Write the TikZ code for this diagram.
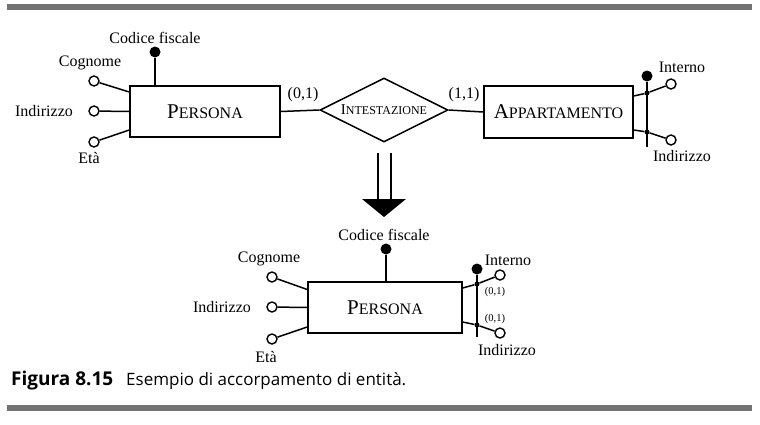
\documentclass[tikz,border=0pt]{standalone}
\usepackage{fontspec}
\setmainfont{Liberation Serif}
\newfontfamily\capfont{Open Sans}
\usetikzlibrary{shapes.geometric}
\newcommand\scap[4]{{\fontsize{#3}{#3}\selectfont #1}{\fontsize{#4}{#4}\selectfont #2}}
\tikzset{
  ln/.style={line width=1.5pt},
  ent/.style={draw, line width=1.5pt, minimum width=150pt, minimum height=51pt, inner sep=0pt},
  rel/.style={draw, diamond, line width=1.5pt, minimum width=128pt, minimum height=64pt, aspect=2, inner sep=0pt},
  att/.style={draw, circle, line width=1.4pt, fill=white, minimum size=10pt, inner sep=0pt},
  keyat/.style={circle, fill=black, minimum size=11pt, inner sep=0pt},
  jn/.style={circle, fill=black, minimum size=5pt, inner sep=0pt},
  lbl/.style={inner sep=0pt, font=\fontsize{16}{16}\selectfont},
  slbl/.style={inner sep=0pt, font=\fontsize{10.5}{10.5}\selectfont},
  bar/.style={fill=black!55, draw=none},
}
\begin{document}
\begin{tikzpicture}[x=1pt,y=-1pt]
\useasboundingbox (0,0) rectangle (760,424);
% bars
\fill[bar] (7,4) rectangle (752,10);
\fill[bar] (7,405) rectangle (752,411);

% ---------- top schema ----------
\node[ent] (p1) at (205,111.5) {\scap{P}{ERSONA}{21}{16}};
\node[rel] (r1) at (384,110) {\scap{I}{NTESTAZIONE}{15}{12}};
\node[ent, minimum width=149pt, minimum height=52pt] (a1) at (558.5,112) {\scap{A}{PPARTAMENTO}{21}{16}};
\draw[ln] (p1.east) -- (r1.west);
\draw[ln] (r1.east) -- (a1.west);
\node[lbl] (c01) at (303,95) {(0,1)};
\node[lbl] (c11) at (464,95) {(1,1)};

% Persona attributes (top)
\node[keyat] (cf1) at (155,52) {};
\draw[ln] (cf1) -- (cf1 |- p1.north);
\node[lbl] (lcf1) at (155,38) {Codice fiscale};
\node[att] (cog1) at (94,81) {};
\draw[ln] (cog1) -- ([yshift=19.5pt]p1.west);
\node[lbl] (lcog1) at (90,63) {Cognome};
\node[att] (ind1) at (94,111) {};
\draw[ln] (ind1) -- (p1.west);
\node[lbl] (lind1) at (44,111) {Indirizzo};
\node[att] (eta1) at (94,142) {};
\draw[ln] (eta1) -- ([yshift=-18.5pt]p1.west);
\node[lbl] (leta1) at (89,158) {Età};

% Appartamento composite identifier
\node[keyat] (k1) at (647,76) {};
\coordinate (kb1) at (647,147);
\draw[ln] (k1) -- (kb1);
\node[jn] (j1) at (647,93) {};
\node[jn] (j2) at (647,132) {};
\node[att] (int1) at (671,84) {};
\node[att] (ind2) at (671,140) {};
\draw[ln] ([yshift=16pt]a1.east) -- (j1) -- (int1);
\draw[ln] ([yshift=-18pt]a1.east) -- (j2) -- (ind2);
\node[lbl] (lint1) at (682,67) {Interno};
\node[lbl] (lind2) at (682,156) {Indirizzo};

% ---------- transformation arrow ----------
\coordinate (as1) at (378,153);
\coordinate (ae1) at (378,199);
\coordinate (as2) at (391,153);
\coordinate (ae2) at (391,199);
\draw[ln] (as1) -- (ae1);
\draw[ln] (as2) -- (ae2);
\coordinate (tl) at (362,199);
\coordinate (tr) at (406,199);
\coordinate (tt) at (384,217);
\fill (tl) -- (tr) -- (tt) -- cycle;

% ---------- bottom schema ----------
\node[ent, minimum width=154pt] (p2) at (385,307.5) {\scap{P}{ERSONA}{21}{16}};
\node[keyat] (cf2) at (386,249) {};
\draw[ln] (cf2) -- (cf2 |- p2.north);
\node[lbl] (lcf2) at (384,235) {Codice fiscale};
\node[att] (cog2) at (272,277) {};
\draw[ln] (cog2) -- ([yshift=18pt]p2.west);
\node[lbl] (lcog2) at (269,259) {Cognome};
\node[att] (ind3) at (272,307) {};
\draw[ln] (ind3) -- (p2.west);
\node[lbl] (lind3) at (222,307) {Indirizzo};
\node[att] (eta2) at (272,339) {};
\draw[ln] (eta2) -- ([yshift=-19.5pt]p2.west);
\node[lbl] (leta2) at (266,357) {Età};

\node[keyat] (k2) at (477,269) {};
\coordinate (kb2) at (477,337);
\draw[ln] (k2) -- (kb2);
\node[jn] (j3) at (477,284) {};
\node[jn] (j4) at (477,325) {};
\node[att] (int2) at (500,275) {};
\node[att] (ind4) at (500,333) {};
\draw[ln] ([yshift=19.5pt]p2.east) -- (j3) -- (int2);
\draw[ln] ([yshift=-14.5pt]p2.east) -- (j4) -- (ind4);
\node[lbl] (lint2) at (508,260) {Interno};
\node[slbl] (c01a) at (495,292) {(0,1)};
\node[slbl] (c01b) at (495,319) {(0,1)};
\node[lbl] (lind4) at (507,350) {Indirizzo};

% ---------- caption ----------
\node[anchor=west, inner sep=0pt, font=\capfont\bfseries\fontsize{19}{19}\selectfont] (fig) at (11,381) {Figura 8.15};
\node[anchor=west, inner sep=0pt, font=\capfont\fontsize{17}{17}\selectfont] (cap) at (126,381) {Esempio di accorpamento di entità.};
\end{tikzpicture}
\end{document}
